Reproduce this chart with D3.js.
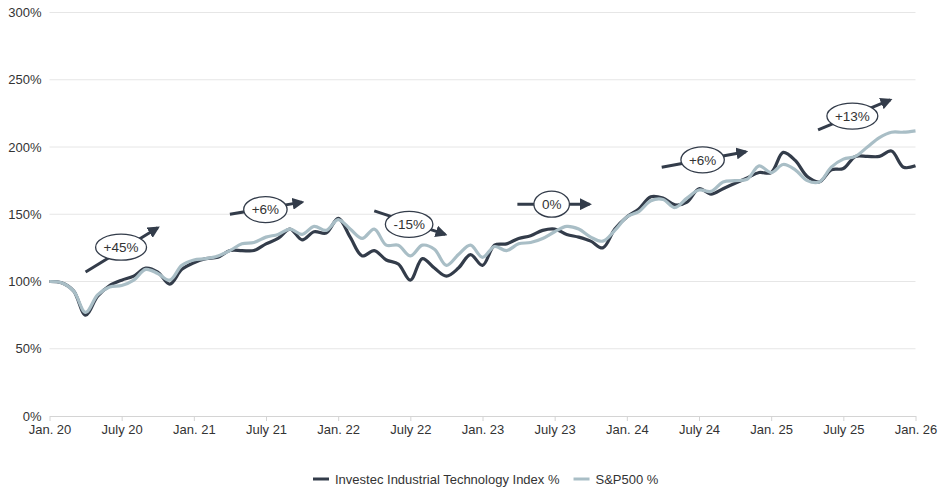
<!DOCTYPE html>
<html>
<head>
<meta charset="utf-8">
<script src="https://cdn.jsdelivr.net/npm/d3@7"></script>
<style>
  html, body { margin: 0; padding: 0; background: #fff; }
  svg { display: block; font-family: "Liberation Sans", Arial, sans-serif; }
</style>
</head>
<body>
<svg id="chart" width="945" height="496"></svg>
<script>
// Monthly observations, Jan. 2020 (index 0) to Jan. 2026 (index 72)
const indexValues = [
  100, 99, 93, 75, 89, 97, 101, 104, 110, 107, 98, 109,
  114, 117, 118, 123, 123, 123, 128, 132, 139, 131, 137, 136,
  147, 133, 119, 123, 116, 113, 101, 117, 110, 104, 110, 120,
  112, 127, 128, 132, 134, 138, 139, 135, 133, 130, 125, 139,
  148, 154, 163, 162, 157, 159, 169, 165, 169, 173, 177, 181,
  181, 196, 190, 178, 174, 183, 184, 193, 193, 193, 197, 185,
  186
];
const spValues = [
  100, 99, 93, 77, 90, 96, 97, 101, 109, 106, 101, 112,
  116, 117, 119, 123, 128, 129, 133, 135, 139, 135, 141, 138,
  146, 139, 132, 139, 127, 127, 119, 127, 124, 112, 120, 127,
  118, 126, 123, 128, 129, 132, 137, 141, 139, 133, 130, 138,
  148, 152, 160, 161, 155, 162, 168, 167, 174, 175, 176, 186,
  181, 187, 183, 175, 174, 185, 191, 193, 200, 207, 211, 211,
  212
];
const xTickMonths = [0, 6, 12, 18, 24, 30, 36, 42, 48, 54, 60, 66, 72];
const xTickLabels = ["Jan. 20", "July 20", "Jan. 21", "July 21", "Jan. 22", "July 22",
  "Jan. 23", "July 23", "Jan. 24", "July 24", "Jan. 25", "July 25", "Jan. 26"];
const yTicks = [0, 50, 100, 150, 200, 250, 300];
const seriesNames = ["Investec Industrial Technology Index %", "S&P500 %"];
// Annotations: label, arrow start (month, value), arrow end (month, value), label centre (month, value)
const annLabels = ["+45%", "+6%", "-15%", "0%", "+6%", "+13%"];
const annStart = [[3, 107], [15, 150], [27, 152.5], [38.9, 157.5], [50.9, 185], [63.9, 212.7]];
const annEnd   = [[9, 140], [21, 159], [32.9, 135], [44.9, 157.5], [57.9, 196.5], [69.9, 235]];
const annMid   = [[5.95, 125.5], [17.95, 153.5], [29.9, 142.5], [41.75, 157.5], [54.3, 190.5], [66.75, 223]];

const svg = d3.select("#chart");
const margin = { left: 49.5, right: 29.5, top: 12.5, bottom: 80 };
const W = 945, H = 496;
const x = d3.scaleLinear().domain([0, 72]).range([margin.left, W - margin.right]);
const y = d3.scaleLinear().domain([0, 300]).range([416, 12.5]);

const dark = "#333c4a";
const light = "#a9bec6";
const textCol = "#333333";

// gridlines
svg.append("g").selectAll("line").data(yTicks.filter(d => d > 0)).join("line")
  .attr("x1", x(0)).attr("x2", x(72))
  .attr("y1", d => y(d)).attr("y2", d => y(d))
  .attr("stroke", "#e6e6e6").attr("stroke-width", 1);

// y axis labels
const yAxis = d3.axisLeft(y).tickValues(yTicks).tickFormat(d => d + "%").tickSize(0).tickPadding(8);
const gy = svg.append("g").attr("transform", `translate(${x(0)},0)`).call(yAxis);
gy.select(".domain").remove();
gy.selectAll("text").attr("font-size", 13).attr("fill", textCol)
  .attr("font-family", "'Liberation Sans', Arial, sans-serif");

// x axis
const xAxis = d3.axisBottom(x).tickValues(xTickMonths)
  .tickFormat((d, i) => xTickLabels[i]).tickSize(5).tickSizeOuter(0).tickPadding(4);
const gx = svg.append("g").attr("transform", `translate(0,${y(0)})`).call(xAxis);
gx.select(".domain").attr("stroke", "#d4d4d4");
gx.selectAll(".tick line").attr("stroke", "#d4d4d4");
gx.selectAll("text").attr("font-size", 13).attr("fill", textCol)
  .attr("font-family", "'Liberation Sans', Arial, sans-serif");

// lines
const line = d3.line().x((d, i) => x(i)).y(d => y(d)).curve(d3.curveCatmullRom.alpha(0.5));
svg.append("path").datum(indexValues).attr("d", line)
  .attr("fill", "none").attr("stroke", dark).attr("stroke-width", 3.2).attr("stroke-linejoin", "round");
svg.append("path").datum(spValues).attr("d", line)
  .attr("fill", "none").attr("stroke", light).attr("stroke-width", 3.2).attr("stroke-linejoin", "round");

// arrow marker
svg.append("defs").append("marker")
  .attr("id", "arrowhead").attr("viewBox", "0 0 10 10")
  .attr("refX", 8).attr("refY", 5).attr("markerWidth", 4).attr("markerHeight", 4)
  .attr("markerUnits", "strokeWidth").attr("orient", "auto")
  .append("path").attr("d", "M0,0 L10,5 L0,10 Z").attr("fill", dark);

// annotations
const ann = svg.append("g");
annLabels.forEach((lab, i) => {
  ann.append("line")
    .attr("x1", x(annStart[i][0])).attr("y1", y(annStart[i][1]))
    .attr("x2", x(annEnd[i][0])).attr("y2", y(annEnd[i][1]))
    .attr("stroke", dark).attr("stroke-width", 3).attr("marker-end", "url(#arrowhead)");
  const g = ann.append("g").attr("transform", `translate(${x(annMid[i][0])},${y(annMid[i][1])})`);
  const el = g.append("ellipse").attr("fill", "#fff").attr("stroke", dark).attr("stroke-width", 1.3);
  const t = g.append("text").text(lab).attr("text-anchor", "middle").attr("dy", "0.36em")
    .attr("font-size", 13.5).attr("fill", textCol);
  const w = t.node().getComputedTextLength();
  el.attr("rx", Math.max(w / 2 + 8, 15)).attr("ry", 13);
});

// legend
const legend = svg.append("g").attr("transform", "translate(0,479)");
const colors = [dark, light];
let lx = 313;
seriesNames.forEach((name, i) => {
  legend.append("line").attr("x1", lx).attr("x2", lx + 16).attr("y1", 0).attr("y2", 0)
    .attr("stroke", colors[i]).attr("stroke-width", 3);
  const t = legend.append("text").text(name).attr("x", lx + 22).attr("dy", "0.36em")
    .attr("font-size", 13).attr("fill", textCol);
  lx += 22 + t.node().getComputedTextLength() + 14;
});
</script>
</body>
</html>
